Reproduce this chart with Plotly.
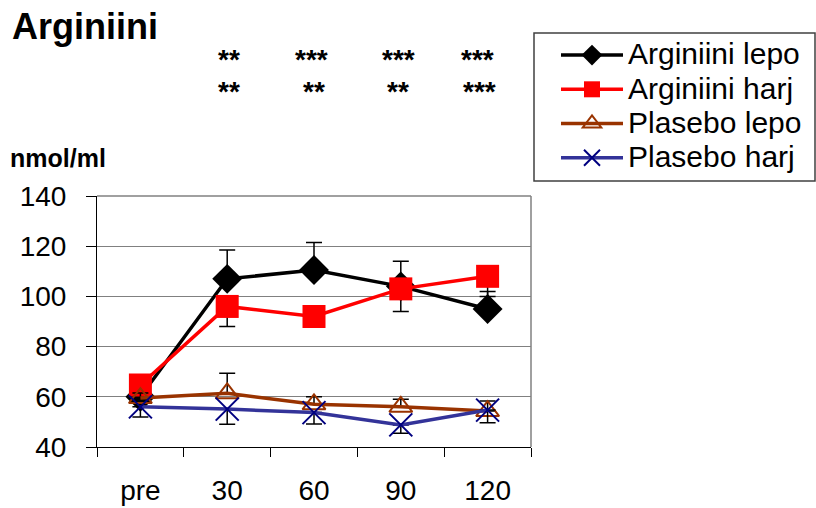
import plotly.graph_objects as go

# Sampling times
categories = ["pre", "30", "60", "90", "120"]

# Plasma arginine, nmol/ml (mean values)
arg_lepo = [60, 107, 110.5, 104, 95]
arg_harj = [64.7, 96, 92, 103, 108]
plas_lepo = [59.5, 61.4, 57, 56, 54.3]
plas_harj = [56, 55.1, 53.7, 48.8, 54.7]

# Error bar lengths (one-sided)
arg_lepo_err_up = [2, 11.5, 11, 10, 7]
arg_harj_err_down = [2, 8, 1.5, 9, 8]
plas_lepo_err_up = [2, 8, 3, 3, 4]
plas_harj_err_down = [4, 6, 4.5, 3.3, 5]

# Significance marks above each time point (30, 60, 90, 120)
sig_row1 = ["**", "***", "***", "***"]
sig_row2 = ["**", "**", "**", "***"]

FONT = "Liberation Sans, Arial, sans-serif"
W, H = 816, 508
ML, MR, MT, MB = 97, 285, 196, 61
PW, PH = W - ML - MR, H - MT - MB


def px_to_paper(px, py):
    """Convert page pixel position to paper coordinates."""
    return (px - ML) / PW, (H - MB - py) / PH


def err(plus, minus):
    return dict(type="data", symmetric=False, array=plus, arrayminus=minus,
                color="black", thickness=1.5, width=8)


def legend_name(label):
    # Larger text than the legend row height would normally allow
    return f'<span style="font-size:30px">{label}</span>'


zeros = [0] * len(categories)

fig = go.Figure()

fig.add_trace(go.Scatter(
    x=categories, y=arg_lepo, name=legend_name("Arginiini lepo"),
    mode="lines+markers",
    line=dict(color="black", width=3.5),
    marker=dict(symbol="diamond", size=23, color="black"),
    error_y=err(arg_lepo_err_up, zeros)))

fig.add_trace(go.Scatter(
    x=categories, y=arg_harj, name=legend_name("Arginiini harj"),
    mode="lines+markers",
    line=dict(color="#FF0000", width=3.5),
    marker=dict(symbol="square", size=23, color="#FF0000"),
    error_y=err(zeros, arg_harj_err_down)))

fig.add_trace(go.Scatter(
    x=categories, y=plas_lepo, name=legend_name("Plasebo lepo"),
    mode="lines+markers",
    line=dict(color="#993300", width=3.5),
    marker=dict(symbol="triangle-up-open", size=20, color="#993300",
                line=dict(width=2, color="#993300")),
    error_y=err(plas_lepo_err_up, zeros)))

fig.add_trace(go.Scatter(
    x=categories, y=plas_harj, name=legend_name("Plasebo harj"),
    mode="lines+markers",
    line=dict(color="#333399", width=3.5),
    marker=dict(symbol="x-thin-open", size=23, color="#000080",
                line=dict(width=2, color="#000080")),
    error_y=err(zeros, plas_harj_err_down)))

fig.update_layout(
    width=W, height=H,
    margin=dict(l=ML, r=MR, t=MT, b=MB, autoexpand=False),
    paper_bgcolor="white", plot_bgcolor="white",
    font=dict(family=FONT, color="black", size=28),
    showlegend=True,
    legend=dict(
        xref="container", yref="container",
        x=556 / W, y=1 - 33 / H, xanchor="left", yanchor="top",
        bgcolor="rgba(0,0,0,0)", borderwidth=0,
        font=dict(family=FONT, size=24, color="black"),
        itemwidth=62, tracegroupgap=0,
    ),
    xaxis=dict(
        type="category", range=[-0.5, 4.5], automargin=False,
        showline=True, linecolor="black", linewidth=1,
        ticks="outside", ticklen=9, tickcolor="black", tickson="boundaries",
        showgrid=False, fixedrange=True,
        tickfont=dict(size=28), ticklabelstandoff=18,
    ),
    yaxis=dict(
        range=[40, 140], dtick=20, tick0=40, automargin=False,
        showline=True, linecolor="black", linewidth=1,
        ticks="outside", ticklen=10, tickcolor="black",
        showgrid=True, gridcolor="#808080", gridwidth=1,
        zeroline=False, tickfont=dict(size=28), ticklabelstandoff=14,
    ),
)

# Gray plot-area frame on the top and right sides
fig.add_shape(type="line", xref="paper", yref="paper", x0=0, x1=1, y0=1, y1=1,
              line=dict(color="#808080", width=1.5))
fig.add_shape(type="line", xref="paper", yref="paper", x0=1, x1=1, y0=0, y1=1,
              line=dict(color="#808080", width=1.5))

# Legend frame
bx0, by0 = px_to_paper(534, 181)
bx1, by1 = px_to_paper(815, 33)
fig.add_shape(type="rect", xref="paper", yref="paper",
              x0=bx0, x1=bx1, y0=by0, y1=by1,
              line=dict(color="#404040", width=1.5), layer="below")

# Title and unit label
tx, ty = px_to_paper(10, 27)
fig.add_annotation(text="<b>Arginiini</b>", xref="paper", yref="paper",
                   x=tx, y=ty, xanchor="left", yanchor="middle",
                   showarrow=False, font=dict(size=36, family=FONT))
ux, uy = px_to_paper(8, 158)
fig.add_annotation(text="<b>nmol/ml</b>", xref="paper", yref="paper",
                   x=ux, y=uy, xanchor="left", yanchor="middle",
                   showarrow=False, font=dict(size=25, family=FONT))

# Significance marks, placed over category indices 1..4
row1_shift = [2, -3, -2, -10]
row2_shift = [2, 0, -3, -8]
_, r1y = px_to_paper(0, 59)
_, r2y = px_to_paper(0, 92)
for i, (s, dx) in enumerate(zip(sig_row1, row1_shift), start=1):
    fig.add_annotation(text=f"<b>{s}</b>", x=i, xref="x", yref="paper", y=r1y,
                       yanchor="middle", xshift=dx, showarrow=False,
                       font=dict(size=28, family=FONT))
for i, (s, dx) in enumerate(zip(sig_row2, row2_shift), start=1):
    fig.add_annotation(text=f"<b>{s}</b>", x=i, xref="x", yref="paper", y=r2y,
                       yanchor="middle", xshift=dx, showarrow=False,
                       font=dict(size=28, family=FONT))

fig.write_html("out.html")
